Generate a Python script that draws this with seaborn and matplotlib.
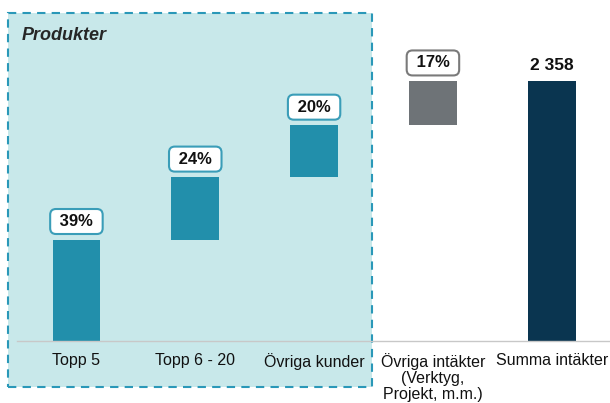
import matplotlib
matplotlib.use("Agg")
import matplotlib.pyplot as plt
import seaborn as sns
import numpy as np
import pandas as pd
from matplotlib.patches import Rectangle

# ---- data ----
categories = ["Topp 5", "Topp 6 - 20", "Övriga kunder",
              "Övriga intäkter\n(Verktyg,\nProjekt, m.m.)", "Summa intäkter"]
segment_values = [920, 566, 471, 401]
total_value = 2358
share_labels = ["39%", "24%", "20%", "17%"]
total_label = "2 358"
group_label = "Produkter"

bar_colors = ["#228fab", "#228fab", "#228fab", "#6e7377", "#0a3550"]
box_edge_colors = ["#3a9db8", "#3a9db8", "#3a9db8", "#7a7a7a"]

heights = segment_values + [total_value]
bases = list(np.concatenate([[0], np.cumsum(segment_values)[:-1]])) + [0]
df = pd.DataFrame({"category": categories, "height": heights})

sns.set_style("white")
plt.rcParams["font.family"] = ["Liberation Sans", "DejaVu Sans"]

fig = plt.figure(figsize=(6.10, 4.03), dpi=100)
fig.patch.set_facecolor("white")
ax = fig.add_axes([17 / 610, 62 / 403, 1 - 17 / 610, 328 / 403])
ax.patch.set_alpha(0)

sns.barplot(data=df, x="category", y="height", bottom=bases, width=0.4,
            errorbar=None, color=bar_colors[0], linewidth=0, ax=ax)
for p, c in zip(ax.patches, bar_colors):
    p.set_facecolor(c)
    p.set_edgecolor(c)

ax.set_xlim(-0.5, 4.49)
ax.set_ylim(0, total_value * 328 / 260)

# shaded "Produkter" region
rect = Rectangle((8 / 610, 16 / 403), 364 / 610, 374 / 403,
                 transform=fig.transFigure, facecolor="#c8e8ea",
                 edgecolor="#2a98b8", linewidth=1.5, linestyle=(0, (4, 3)),
                 zorder=0.2, clip_on=False)
ax.add_patch(rect)
fig.text(22 / 610, 1 - 35 / 403, group_label, fontsize=13, fontweight="bold",
         fontstyle="italic", ha="left", va="center")

# labels
for i in range(len(segment_values)):
    top = bases[i] + segment_values[i]
    ax.annotate(" " + share_labels[i] + " ", xy=(i, top), xytext=(0, 13),
                textcoords="offset points", ha="center", va="center",
                fontsize=12, fontweight="bold", color="#111111",
                bbox=dict(boxstyle="round,pad=0.3,rounding_size=0.35",
                          facecolor="white", edgecolor=box_edge_colors[i],
                          linewidth=1.5), zorder=5)
ax.annotate(total_label, xy=(4, total_value), xytext=(0, 11),
            textcoords="offset points", ha="center", va="center",
            fontsize=12.5, fontweight="bold", color="#111111")

for s in ["top", "right", "left"]:
    ax.spines[s].set_visible(False)
ax.spines["bottom"].set_color("#c8c8c8")
ax.spines["bottom"].set_linewidth(1)
ax.set_yticks([])
ax.set_xlabel("")
ax.set_ylabel("")
ax.tick_params(axis="x", length=0, pad=8.5, labelsize=11.5, labelcolor="#111111")
for t in ax.get_xticklabels():
    t.set_linespacing(1.08)

fig.savefig("out.png", dpi=100)
